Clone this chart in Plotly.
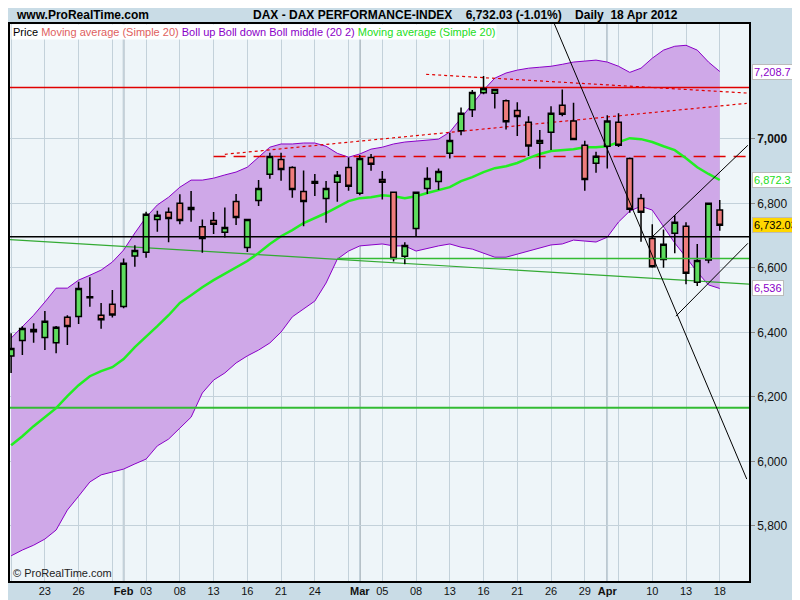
import plotly.graph_objects as go

# trading days Jan 18 .. Apr 18 2012, x = trading day index
opens = [6327, 6375, 6409, 6384, 6368, 6447, 6449, 6510, 6453, 6487,
         6480, 6637, 6648, 6750, 6772, 6800, 6781, 6727, 6747, 6710,
         6806, 6663, 6809, 6890, 6936, 6911, 6837, 6868, 6815, 6865,
         6911, 6831, 6942, 6874, 6834, 6636, 6722, 6846, 6868, 6955,
         7025, 7090, 7143, 7141, 7118, 7088, 7051, 6986, 7020, 7104,
         7055, 6980, 6924, 6977, 7051, 6939, 6815, 6691, 6626, 6707,
         6729, 6555, 6624, 6779]
highs = [6397, 6419, 6428, 6466, 6420, 6453, 6557, 6571, 6491, 6531,
         6629, 6670, 6774, 6777, 6787, 6828, 6838, 6750, 6773, 6787,
         6829, 6750, 6872, 6957, 6957, 6915, 6902, 6891, 6869, 6900,
         6942, 6950, 6953, 6900, 6834, 6679, 6836, 6912, 6908, 7019,
         7097, 7151, 7195, 7153, 7122, 7113, 7070, 7027, 7101, 7153,
         7112, 6994, 6960, 7073, 7079, 6942, 6829, 6735, 6719, 6763,
         6741, 6674, 6800, 6810]
lows = [6274, 6330, 6368, 6345, 6335, 6361, 6426, 6479, 6411, 6446,
        6475, 6603, 6631, 6712, 6679, 6735, 6743, 6647, 6705, 6694,
        6733, 6649, 6792, 6876, 6870, 6817, 6729, 6823, 6740, 6805,
        6839, 6825, 6901, 6812, 6620, 6611, 6699, 6829, 6841, 6939,
        7011, 7068, 7138, 7094, 7029, 7009, 6947, 6907, 6965, 7070,
        6998, 6839, 6895, 6908, 6975, 6771, 6681, 6600, 6600, 6645,
        6549, 6544, 6614, 6715]
closes = [6350, 6412, 6402, 6434, 6416, 6418, 6536, 6507, 6439, 6454,
          6614, 6654, 6766, 6763, 6753, 6747, 6787, 6691, 6735, 6725,
          6756, 6750, 6846, 6945, 6905, 6843, 6806, 6862, 6846, 6887,
          6853, 6939, 6921, 6865, 6629, 6669, 6834, 6877, 6899, 6995,
          7079, 7144, 7156, 7153, 7053, 7069, 6978, 6995, 7079, 7076,
          6998, 6874, 6946, 7055, 6980, 6782, 6772, 6603, 6673, 6741,
          6583, 6623, 6800, 6732.03]

boll_up = [6382, 6416, 6453, 6494, 6537, 6537, 6562, 6577, 6593, 6618,
           6655, 6708, 6757, 6795, 6819, 6850, 6872, 6872, 6878, 6888,
           6897, 6912, 6943, 6974, 6984, 6984, 6987, 6987, 6977, 6955,
           6943, 6953, 6968, 6974, 6984, 6990, 6993, 6996, 6999, 7021,
           7064, 7105, 7151, 7188, 7204, 7213, 7219, 7222, 7225, 7231,
           7238, 7241, 7244, 7238, 7225, 7206, 7219, 7250, 7275, 7287,
           7290, 7275, 7238, 7208.7]
boll_down = [5707, 5725, 5740, 5759, 5787, 5849, 5892, 5936, 5958, 5967,
             5976, 5992, 6007, 6048, 6069, 6103, 6137, 6212, 6252, 6274,
             6305, 6327, 6345, 6367, 6401, 6448, 6472, 6497, 6553, 6627,
             6652, 6668, 6671, 6674, 6668, 6668, 6652, 6661, 6668, 6674,
             6664, 6658, 6646, 6633, 6633, 6643, 6652, 6661, 6671, 6674,
             6686, 6683, 6680, 6695, 6742, 6776, 6791, 6779, 6726, 6677,
             6633, 6587, 6547, 6536]
sma20 = [6050, 6078, 6109, 6137, 6165, 6202, 6236, 6264, 6280, 6292,
         6317, 6354, 6385, 6419, 6453, 6491, 6515, 6540, 6562, 6581,
         6602, 6621, 6646, 6674, 6698, 6717, 6739, 6754, 6770, 6788,
         6807, 6816, 6819, 6825, 6822, 6816, 6822, 6832, 6841, 6850,
         6869, 6881, 6897, 6909, 6915, 6925, 6940, 6953, 6962, 6965,
         6968, 6974, 6974, 6977, 6990, 7002, 6999, 6990, 6977, 6965,
         6940, 6912, 6891, 6872.3]

# drawn levels and trend lines (x index, value)
red_level = 7159
red_dash_level = 6945
red_dash_start = 18
black_level = 6696
green_level_low = 6166
green_level_mid = 6629
green_mid_start = 29
red_trend_a = ([19, 65.4], [6952, 7110])
red_trend_b = ([36.9, 65.4], [7200, 7142])
down_trend = ([48.3, 65.4], [7356, 5945])
up_trend_a = ([57.05, 65.5], [6698, 6980])
up_trend_b = ([59.1, 65.5], [6450, 6676])
green_trend = ([-0.7, 65.7], [6689, 6549])

tick_idx = [0, 3, 6, 9, 10, 12, 15, 18, 21, 24, 27, 30, 31, 33, 36, 39, 42,
            45, 48, 51, 53, 54, 57, 60, 63]
tick_txt = ['', '23', '26', '', '<b>Feb</b>', '03', '08', '13', '16', '21',
            '24', '', '<b>Mar</b>', '05', '08', '13', '16', '21', '26', '29',
            '<b>Apr</b>', '', '10', '13', '18']
month_idx = [10, 31, 53]

x = list(range(len(closes)))
XR = [-0.1, 65.6]
YR = [5629, 7356]
FONT = 'Liberation Sans Narrow, Arial Narrow, Liberation Sans, Arial'

fig = go.Figure()

# bollinger band (bottom axes)
fig.add_trace(go.Scatter(x=x, y=boll_up, mode='lines',
                         line=dict(color='#8A00C8', width=1)))
fig.add_trace(go.Scatter(x=x, y=boll_down, mode='lines', fill='tonexty',
                         fillcolor='#CFA8E8',
                         line=dict(color='#8A00C8', width=1)))

def seg(xs, ys, color, width=1, dash=None, top=False):
    fig.add_trace(go.Scatter(x=xs, y=ys, mode='lines',
                             xaxis='x2' if top else 'x', yaxis='y2' if top else 'y',
                             line=dict(color=color, width=width, dash=dash)))

seg(XR, [red_level] * 2, '#E00000', 1.5)
seg([red_dash_start, XR[1]], [red_dash_level] * 2, '#E00000', 1.5, '12px,8px')
seg(*red_trend_a, '#E00000', 1.2, '3px,3px')
seg(*red_trend_b, '#E00000', 1.2, '3px,3px')
seg(XR, [green_level_low] * 2, '#33BB33', 2)
seg(*green_trend, '#33AA33', 1.2)

fig.add_trace(go.Scatter(x=x, y=sma20, mode='lines',
                         line=dict(color='#22EE22', width=2.5)))

# candles on an overlaying axis so they sit above the band fill
fig.add_trace(go.Candlestick(
    x=x, open=opens, high=highs, low=lows, close=closes,
    xaxis='x2', yaxis='y2',
    increasing=dict(fillcolor='#5EDC5E', line=dict(color='black', width=1.5)),
    decreasing=dict(fillcolor='#EE7C7C', line=dict(color='black', width=1.5)),
    whiskerwidth=0))

seg(XR, [black_level] * 2, '#000000', 1.5, top=True)
seg([green_mid_start, XR[1]], [green_level_mid] * 2, '#33BB33', 1.5, top=True)
seg(*down_trend, '#000000', 1, top=True)
seg(*up_trend_a, '#000000', 1, top=True)
seg(*up_trend_b, '#000000', 1, top=True)

for m in month_idx:
    fig.add_vline(x=m, line_color='#8A98A4', line_width=1.5, layer='below')

for val, txt, col, bg in [(7208.7, '7,208.7', '#8A00C8', 'white'),
                          (6872.3, '6,872.3', '#22DD22', 'white'),
                          (6732.03, '6,732.03', 'black', '#FFD700'),
                          (6536, '6,536', '#8A00C8', 'white')]:
    fig.add_annotation(x=1.0, xref='paper', y=val, yref='y', text=txt, xshift=3,
                       showarrow=False, xanchor='left', bgcolor=bg,
                       bordercolor='#BBBBBB', borderwidth=1, borderpad=1,
                       font=dict(color=col, size=11, family=FONT))

fig.add_annotation(x=0.002, xref='paper', y=1, yref='paper', xanchor='left',
                   yanchor='top', showarrow=False, bgcolor='white', borderpad=1,
                   font=dict(size=11, family=FONT),
                   text="<span style='color:black'>Price </span>"
                        "<span style='color:#E06060'>Moving average (Simple 20) </span>"
                        "<span style='color:#8A00C8'>Boll up Boll down Boll middle (20 2) </span>"
                        "<span style='color:#22DD22'>Moving average (Simple 20)</span>")
fig.add_annotation(x=0.002, xref='paper', y=0, yref='paper', xanchor='left',
                   yanchor='bottom', showarrow=False,
                   font=dict(size=11, family=FONT, color='#222'),
                   text='© ProRealTime.com')
fig.add_annotation(x=0.005, xref='paper', y=1.0, yref='paper', yanchor='bottom', yshift=0,
                   xanchor='left', showarrow=False, text='<b>www.ProRealTime.com</b>',
                   font=dict(size=12, family=FONT, color='black'))
fig.add_annotation(x=0.617, xref='paper', y=1.0, yref='paper', yanchor='bottom', yshift=0,
                   xanchor='center', showarrow=False,
                   text='<b>DAX - DAX PERFORMANCE-INDEX&nbsp;&nbsp;&nbsp; 6,732.03 (-1.01%)&nbsp;&nbsp;&nbsp; Daily&nbsp; 18 Apr 2012</b>',
                   font=dict(size=12, family=FONT, color='black'))

ax_common = dict(range=XR, zeroline=False)
# page body adds an 8px offset, so the figure is 792x592 with tight left/top margins
fig.update_layout(
    width=792, height=592, showlegend=False,
    margin=dict(l=0, r=51, t=16, b=19),
    paper_bgcolor='#C9DCE6', plot_bgcolor='#EEF5F9',
    xaxis=dict(**ax_common, tickvals=tick_idx, ticktext=tick_txt, showgrid=True,
               gridcolor='#C3D1DA', rangeslider=dict(visible=False),
               showline=True, linecolor='black', mirror=True, linewidth=1.5,
               ticks='', ticklabelstandoff=-1,
               tickfont=dict(size=11, family=FONT, color='#111')),
    xaxis2=dict(**ax_common, overlaying='x', visible=False,
                rangeslider=dict(visible=False)),
    yaxis=dict(range=YR, side='right', tickvals=[5800, 6000, 6200, 6400, 6600, 6800, 7000],
               ticktext=['5,800', '6,000', '6,200', '6,400', '6,600', '6,800', '<b>7,000</b>'],
               showgrid=True, gridcolor='#C3D1DA', zeroline=False, showline=True,
               linecolor='black', mirror=True, linewidth=1.5, ticks='outside',
               ticklen=4, tickcolor='#888',
               tickfont=dict(size=12, family=FONT, color='#111')),
    yaxis2=dict(range=YR, overlaying='y', visible=False),
)

fig.write_html("out.html")
